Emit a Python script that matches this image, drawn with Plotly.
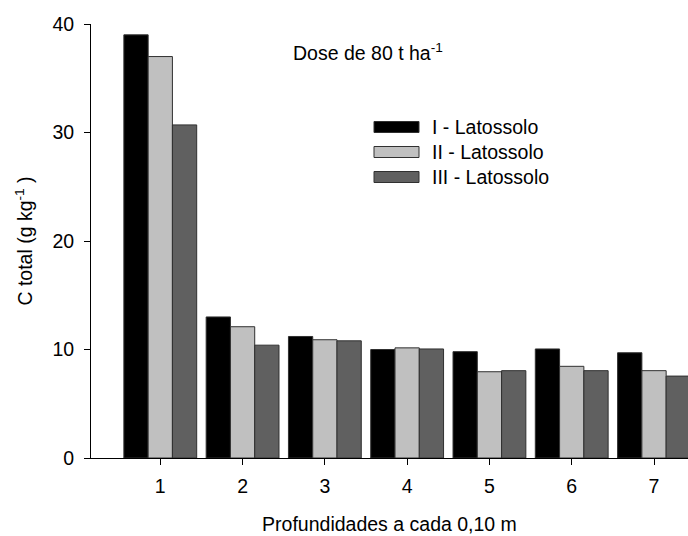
import plotly.graph_objects as go

categories = [1, 2, 3, 4, 5, 6, 7]
serie_I = [39.0, 13.0, 11.2, 10.0, 9.8, 10.05, 9.7]
serie_II = [37.0, 12.1, 10.9, 10.15, 7.95, 8.45, 8.05]
serie_III = [30.7, 10.4, 10.8, 10.05, 8.05, 8.05, 7.55]
names = ["I - Latossolo", "II - Latossolo", "III - Latossolo"]
colors = ["#000000", "#c0c0c0", "#606060"]
y_ticks = [0, 10, 20, 30, 40]

FONT = "Arial, Liberation Sans, sans-serif"
FS = 19.5
W, H = 688, 536
L, R, T, B = 91, 0, 24, 78

fig = go.Figure()
for vals, name, col in zip([serie_I, serie_II, serie_III], names, colors):
    fig.add_trace(go.Bar(
        x=categories, y=vals, name=name,
        marker=dict(color=col, line=dict(color="#303030", width=1)),
        showlegend=False,
    ))

def px_to_paper_x(px):
    return (px - L) / (W - L - R)

def px_to_paper_y(py):
    return (H - B - py) / (H - T - B)

# manual legend with wide swatches
rows_y = [127, 152, 177]
for name, col, yc in zip(names, colors, rows_y):
    fig.add_shape(type="rect", xref="paper", yref="paper",
                  x0=px_to_paper_x(374), x1=px_to_paper_x(419),
                  y0=px_to_paper_y(yc + 5.5), y1=px_to_paper_y(yc - 5.5),
                  fillcolor=col, line=dict(color="#303030", width=1))
    fig.add_annotation(xref="paper", yref="paper",
                       x=px_to_paper_x(430), y=px_to_paper_y(yc),
                       text=name, showarrow=False, xanchor="left", yanchor="middle",
                       font=dict(family=FONT, size=FS, color="#000"))

fig.add_annotation(xref="paper", yref="paper",
                   x=px_to_paper_x(291), y=px_to_paper_y(52),
                   text="Dose de 80 t ha<sup>-1</sup>", showarrow=False,
                   xanchor="left", yanchor="middle",
                   font=dict(family=FONT, size=FS, color="#000"))

fig.update_layout(
    width=W, height=H,
    margin=dict(l=L, r=R, t=T, b=B, pad=0),
    paper_bgcolor="white", plot_bgcolor="white",
    barmode="group", bargap=0.115, bargroupgap=0,
    font=dict(family=FONT, size=FS, color="#000"),
)
fig.update_xaxes(
    range=[0.158, 7.413], tickvals=categories, ticktext=[str(c) for c in categories],
    showline=True, linecolor="black", linewidth=1,
    ticks="outside", ticklen=6, tickcolor="black", tickwidth=1,
    ticklabelstandoff=5,
    showgrid=False, zeroline=False,
    title=dict(text="Profundidades a cada 0,10 m", standoff=20,
               font=dict(family=FONT, size=FS)),
    tickfont=dict(family=FONT, size=FS),
)
fig.update_yaxes(
    range=[0, 40], tickvals=y_ticks,
    showline=True, linecolor="black", linewidth=1,
    ticks="outside", ticklen=6, tickcolor="black", tickwidth=1,
    ticklabelstandoff=6,
    showgrid=False, zeroline=False,
    title=dict(text="C total (g kg<sup>-1</sup> )", standoff=14,
               font=dict(family=FONT, size=FS)),
    tickfont=dict(family=FONT, size=FS),
)

fig.write_html("out.html")
